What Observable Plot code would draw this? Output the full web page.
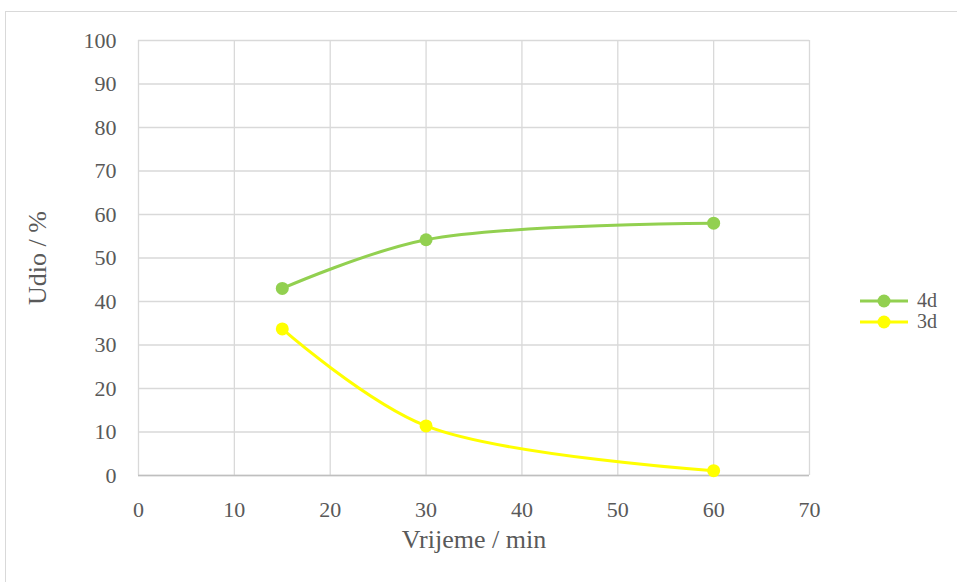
<!DOCTYPE html>
<html>
<head>
<meta charset="utf-8">
<script src="https://cdn.jsdelivr.net/npm/d3@7"></script>
<script src="https://cdn.jsdelivr.net/npm/@observablehq/plot@0.6"></script>
<style>
  html, body { margin: 0; padding: 0; background: #fff; }
  #wrap { position: relative; width: 957px; height: 582px; overflow: hidden; }
  #frame { position: absolute; left: 5px; top: 11px; width: 1000px; height: 1000px; border: 1px solid #d9d9d9; box-sizing: border-box; }
  #chart { position: absolute; left: 0; top: 0; }
  #legend { position: absolute; left: 859px; top: 290px; font-family: "Liberation Serif", "Times New Roman", "DejaVu Serif", serif; font-size: 20px; color: #595959; }
  .item { display: flex; align-items: center; height: 21px; line-height: 21px; }
  .item svg { margin-right: 8px; }
  svg text { font-family: "Liberation Serif", "Times New Roman", "DejaVu Serif", serif !important; }
</style>
</head>
<body>
<div id="wrap">
  <div id="frame"></div>
  <div id="chart"></div>
  <div id="legend"></div>
</div>
<script>
const times = [15, 30, 60];
const series4d = [43.0, 54.2, 58.0];
const series3d = [33.7, 11.4, 1.1];
const seriesNames = ["4d", "3d"];
const seriesColors = ["#92d050", "#ffff00"];
const xTicks = [0, 10, 20, 30, 40, 50, 60, 70];
const yTicks = [0, 10, 20, 30, 40, 50, 60, 70, 80, 90, 100];

const rows = [];
[series4d, series3d].forEach((vals, si) => {
  vals.forEach((v, i) => rows.push({series: seriesNames[si], t: times[i], v}));
});

const font = "'Liberation Serif', 'Times New Roman', 'DejaVu Serif', serif";
const plot = Plot.plot({
  width: 957,
  height: 582,
  marginLeft: 138,
  marginRight: 148,
  marginTop: 40,
  marginBottom: 107,
  style: {fontFamily: font, background: "transparent", overflow: "visible"},
  x: {domain: [0, 70], ticks: xTicks, label: null},
  y: {domain: [0, 100], ticks: yTicks, label: null},
  color: {domain: seriesNames, range: seriesColors},
  marks: [
    Plot.gridX(xTicks, {stroke: "#d9d9d9", strokeOpacity: 1, strokeWidth: 1.3}),
    Plot.gridY(yTicks, {stroke: "#d9d9d9", strokeOpacity: 1, strokeWidth: 1.3}),
    Plot.ruleY([0], {stroke: "#bfbfbf", strokeWidth: 1.5}),
    Plot.axisX(xTicks, {tickSize: 0, tickPadding: 26, fontSize: 22, fill: "#595959", label: null, tickFormat: d => String(d)}),
    Plot.axisY(yTicks, {tickSize: 0, tickPadding: 22, fontSize: 22, fill: "#595959", label: null, tickFormat: d => String(d)}),
    Plot.line(rows, {x: "t", y: "v", z: "series", stroke: "series", strokeWidth: 3, curve: "catmull-rom"}),
    Plot.dot(rows, {x: "t", y: "v", fill: "series", r: 6.5, stroke: "none"}),
    Plot.text(["Vrijeme / min"], {frameAnchor: "bottom", dy: 72, fontSize: 26, fill: "#595959"}),
    Plot.text(["Udio / %"], {frameAnchor: "left", textAnchor: "middle", dx: -101, rotate: -90, fontSize: 26, fill: "#595959"})
  ]
});
document.getElementById("chart").appendChild(plot);

const legend = document.getElementById("legend");
seriesNames.forEach((name, i) => {
  const div = document.createElement("div");
  div.className = "item";
  div.innerHTML = `<svg width="50" height="14"><line x1="1" y1="7" x2="49" y2="7" stroke="${seriesColors[i]}" stroke-width="3"/><circle cx="25" cy="7" r="6.5" fill="${seriesColors[i]}"/></svg><span>${name}</span>`;
  legend.appendChild(div);
});
</script>
</body>
</html>
